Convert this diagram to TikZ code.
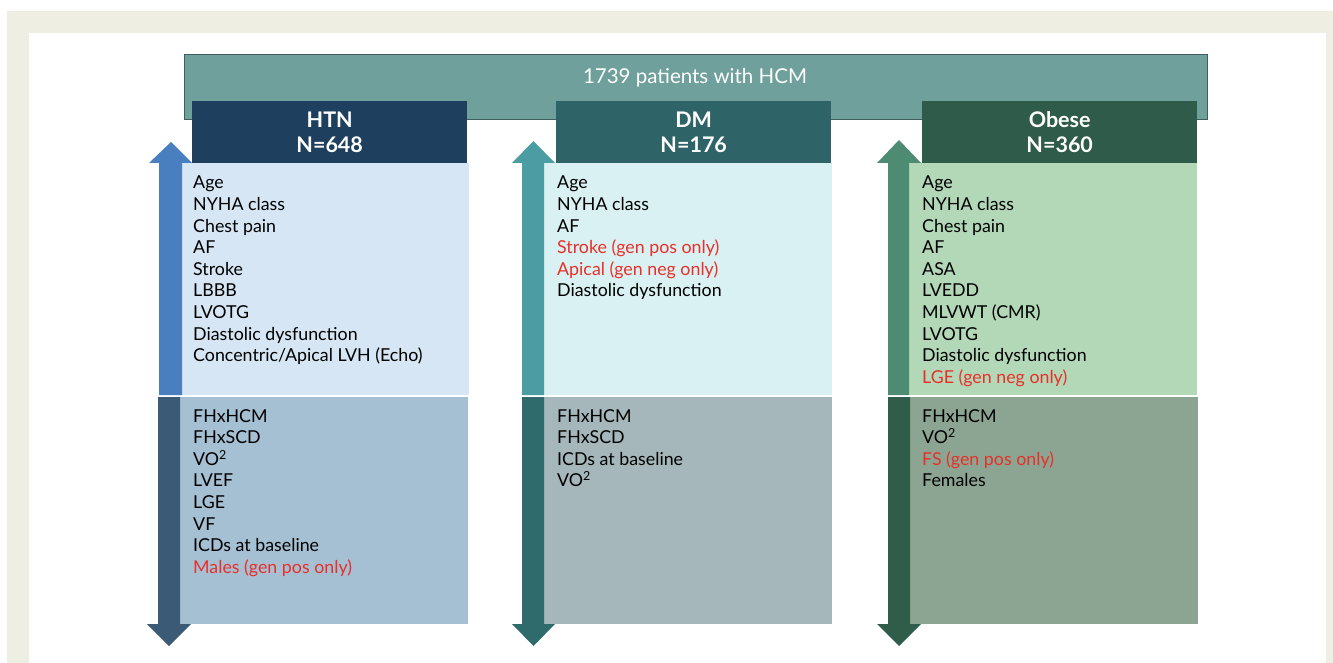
\documentclass[tikz,border=0pt]{standalone}
\usepackage{fontspec}
\setmainfont{Lato}
\definecolor{beige}{HTML}{EEEEE3}
\definecolor{bannerF}{HTML}{6FA09B}
\definecolor{bannerD}{HTML}{3E5F5B}
\definecolor{htnH}{HTML}{1F3F5F}
\definecolor{dmH}{HTML}{2E6467}
\definecolor{obH}{HTML}{2F5B4A}
\definecolor{htnU}{HTML}{D6E6F4}
\definecolor{htnUa}{HTML}{4A7FBF}
\definecolor{htnL}{HTML}{A5BFD3}
\definecolor{htnLa}{HTML}{3B5A75}
\definecolor{dmU}{HTML}{DAF1F3}
\definecolor{dmUa}{HTML}{4C9DA3}
\definecolor{dmL}{HTML}{A5B7BA}
\definecolor{dmLa}{HTML}{2F6B6C}
\definecolor{obU}{HTML}{B3D8B8}
\definecolor{obUa}{HTML}{4D8C72}
\definecolor{obL}{HTML}{8CA592}
\definecolor{obLa}{HTML}{2F5D4A}
\definecolor{redtxt}{HTML}{E8302A}
\begin{document}
\begin{tikzpicture}[x=1pt,y=-1pt,
  panel/.style={rectangle, inner sep=0pt, anchor=north west, draw=none},
  hdr/.style={rectangle, inner sep=0pt, anchor=north west, text=white, align=center,
    minimum width=275pt, minimum height=62pt, font=\fontsize{21.5}{25.5}\bfseries\selectfont},
  listtxt/.style={anchor=north west, inner sep=0pt, align=left, text=black,
    font=\fontsize{17.8}{21.6}\selectfont},
  upbox/.style={panel, minimum width=287pt, minimum height=232pt},
  lowbox/.style={panel, minimum width=288pt, minimum height=227pt}]
\useasboundingbox (0,0) rectangle (1333,663);
\fill[beige] (7,11) rectangle (1333,663);
\fill[white] (29,33) rectangle (1326,663);
% banner
\node[panel, fill=bannerF, draw=bannerD, line width=1pt, minimum width=1023pt, minimum height=65pt] (banner) at (184,54) {};
\node[anchor=base, inner sep=0pt, text=white, font=\fontsize{20.5}{24}\selectfont] (bannertxt) at (695,83.3) {1739 patients with HCM};
% headers
\node[hdr, fill=htnH] (htnHdr) at (192,101) {HTN\\N=648};
\node[hdr, fill=dmH] (dmHdr) at (556,101) {DM\\N=176};
\node[hdr, fill=obH] (obHdr) at (922,101) {Obese\\N=360};
% boxes
\node[upbox, fill=htnU] (htnUp) at (182,163) {};
\node[lowbox, fill=htnL] (htnLow) at (180,397) {};
\node[upbox, fill=dmU, minimum width=288pt] (dmUp) at (544,163) {};
\node[lowbox, fill=dmL] (dmLow) at (544,397) {};
\node[upbox, fill=obU, minimum width=288pt] (obUp) at (909,163) {};
\node[lowbox, fill=obL] (obLow) at (910,397) {};
% arrows
\fill[htnUa] (159,395) -- (159,163) -- (149,163) -- (171,142) -- (192,163) -- (182,163) -- (182,395) -- cycle;
\fill[htnLa] (158,397) -- (158,624) -- (147,624) -- (169,646) -- (191,624) -- (180,624) -- (180,397) -- cycle;
\fill[dmUa] (522,395) -- (522,163) -- (512,163) -- (533.5,141) -- (555,163) -- (544,163) -- (544,395) -- cycle;
\fill[dmLa] (522,397) -- (522,624) -- (512,624) -- (533.5,646) -- (555,624) -- (544,624) -- (544,397) -- cycle;
\fill[obUa] (888,395) -- (888,163) -- (877,163) -- (899,140) -- (921,163) -- (909,163) -- (909,395) -- cycle;
\fill[obLa] (888,397) -- (888,624) -- (877,624) -- (899,646) -- (921,624) -- (910,624) -- (910,397) -- cycle;
% texts
\node[listtxt] (htnUpTxt) at (193,176) {Age\\NYHA class\\Chest pain\\AF\\Stroke\\LBBB\\LVOTG\\Diastolic dysfunction\\Concentric/Apical LVH (Echo)};
\node[listtxt] (htnLowTxt) at (193,409) {FHxHCM\\FHxSCD\\VO\textsuperscript{2}\\LVEF\\LGE\\VF\\ICDs at baseline\\\textcolor{redtxt}{Males (gen pos only)}};
\node[listtxt] (dmUpTxt) at (557,176) {Age\\NYHA class\\AF\\\textcolor{redtxt}{Stroke (gen pos only)}\\\textcolor{redtxt}{Apical (gen neg only)}\\Diastolic dysfunction};
\node[listtxt] (dmLowTxt) at (557,409) {FHxHCM\\FHxSCD\\ICDs at baseline\\VO\textsuperscript{2}};
\node[listtxt] (obUpTxt) at (922,176) {Age\\NYHA class\\Chest pain\\AF\\ASA\\LVEDD\\MLVWT (CMR)\\LVOTG\\Diastolic dysfunction\\\textcolor{redtxt}{LGE (gen neg only)}};
\node[listtxt] (obLowTxt) at (922,409) {FHxHCM\\VO\textsuperscript{2}\\\textcolor{redtxt}{FS (gen pos only)}\\Females};
\end{tikzpicture}
\end{document}
